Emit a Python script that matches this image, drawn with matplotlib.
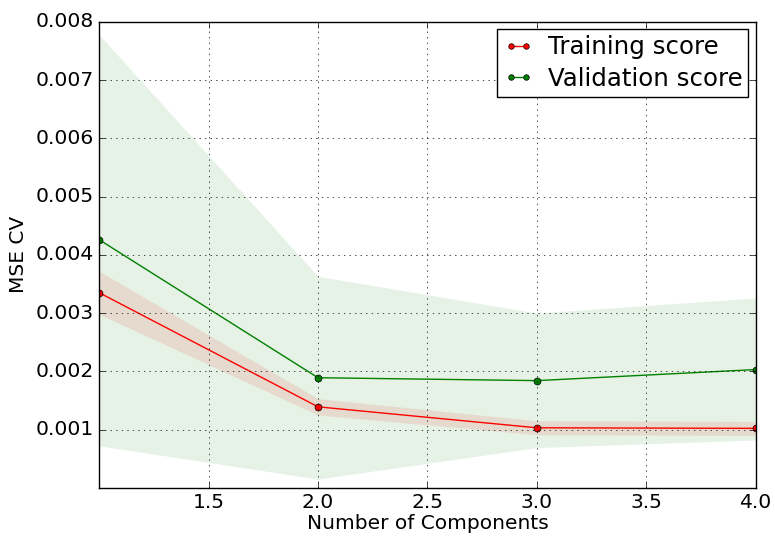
import numpy as np
import matplotlib
matplotlib.use("Agg")
import matplotlib.pyplot as plt

# number of components tested
n_components = [1, 2, 3, 4]

# mean MSE across CV folds
train_mean = [0.00335, 0.00139, 0.00103, 0.00102]
train_std = [0.00037, 0.00014, 0.00012, 0.00012]
valid_upper = [0.00778, 0.00363, 0.00300, 0.00326]
valid_mean = [0.00426, 0.00189, 0.00184, 0.00203]
valid_lower = [0.00072, 0.00015, 0.00069, 0.00082]

yticks = [0.001, 0.002, 0.003, 0.004, 0.005, 0.006, 0.007, 0.008]

plt.style.use("classic")
fig = plt.figure(figsize=(7.75, 5.36), dpi=100, facecolor="white")
ax = fig.add_axes([0.128, 0.090, 0.847, 0.869])

x = np.array(n_components)
tm = np.array(train_mean)
ts = np.array(train_std)

ax.fill_between(x, tm - ts, tm + ts, alpha=0.1, color="r", linewidth=0)
ax.fill_between(x, valid_lower, valid_upper, alpha=0.1, color="g", linewidth=0)
ax.plot(x, tm, "o-", color="r", markersize=5, label="Training score")
ax.plot(x, valid_mean, "o-", color="g", markersize=5, label="Validation score")

ax.set_xlim(1, 4)
ax.set_ylim(0, 0.008)
ax.set_yticks(yticks)
ax.set_xticks([1.5, 2.0, 2.5, 3.0, 3.5, 4.0])
ax.tick_params(labelsize=14.6)
ax.grid(True)
ax.set_xlabel("Number of Components", fontsize=14.5, labelpad=1)
ax.set_ylabel("MSE CV", fontsize=14.5)
ax.legend(loc="upper right", fontsize=17.6, numpoints=2, handlelength=1.2,
          handletextpad=0.6, markerscale=0.8,
          borderaxespad=0.3, labelspacing=0.3, borderpad=0.25)

fig.savefig("out.png", dpi=100, facecolor="white")
